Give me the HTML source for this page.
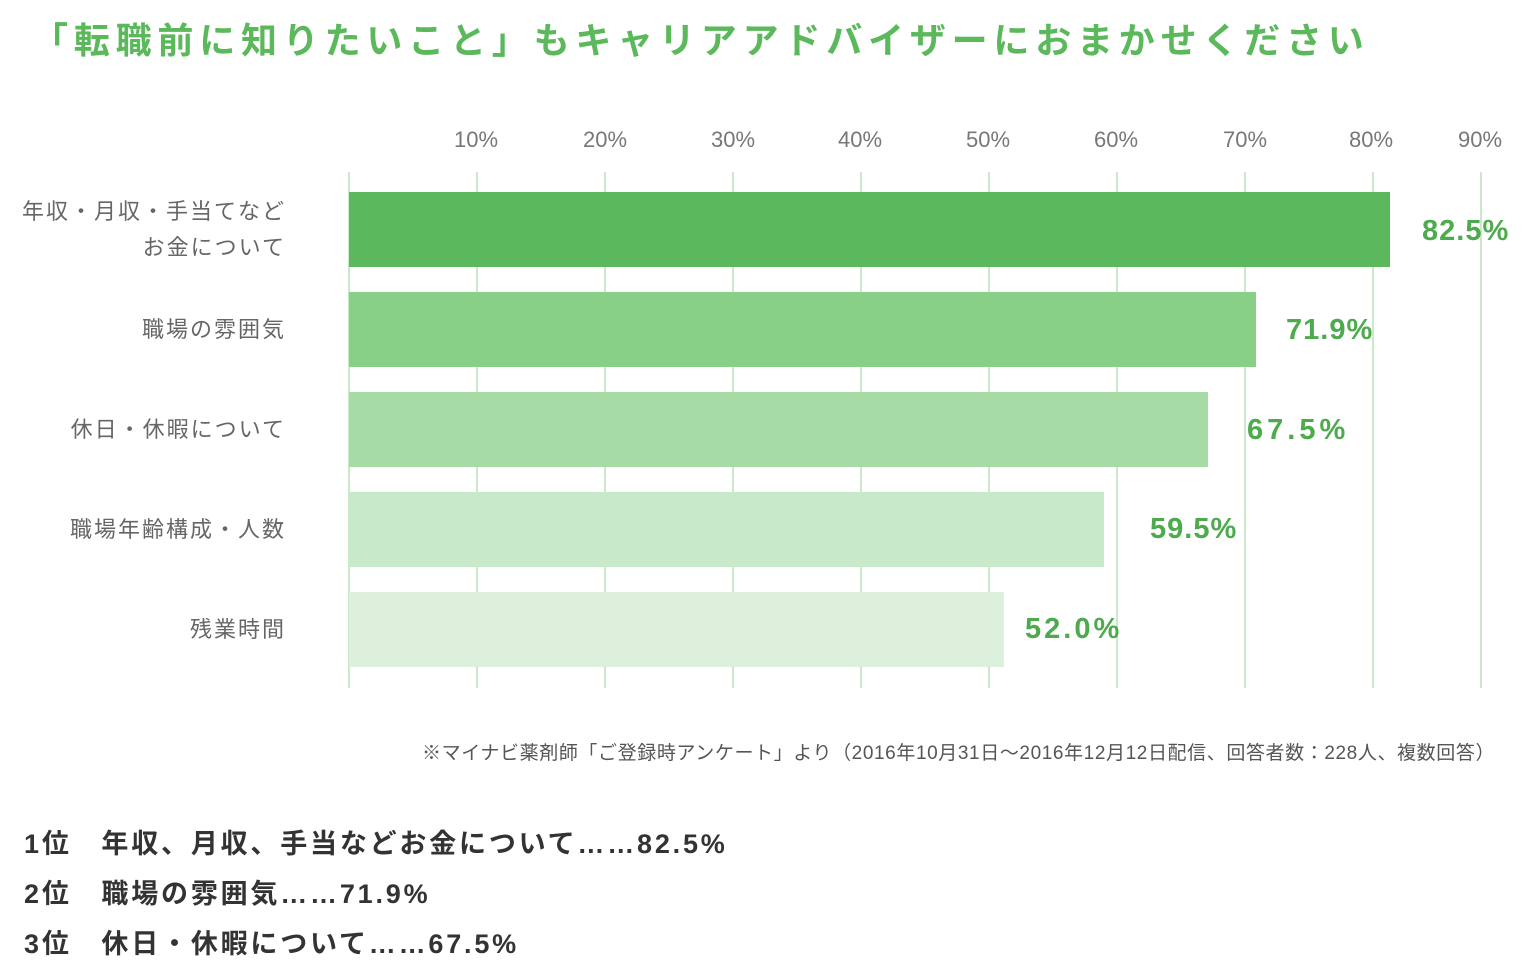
<!DOCTYPE html>
<html><head><meta charset="utf-8"><style>
body{margin:0;width:1538px;height:954px;background:#fff;position:relative;overflow:hidden;font-family:"Liberation Sans","Noto Sans CJK JP",sans-serif}
.a{position:absolute;white-space:nowrap}
.g{position:absolute;top:172px;height:516px;width:2px;background:#c9e9c9}
.b{position:absolute;left:349px;height:75px}
.t{color:#777;font-size:22px;top:127px;width:80px;text-align:center}
.l{color:#666;font-size:22px;letter-spacing:2px;right:1252px;text-align:right;line-height:36px}
.v{color:#4daa4d;font-size:29px;font-weight:bold;letter-spacing:1px}
.r{left:24px;font-size:27px;color:#333;font-weight:bold;letter-spacing:2.8px}
</style></head><body>
<div class="a" style="left:32px;top:12px;font-size:36px;color:#5bb85b;font-weight:bold;letter-spacing:5.8px">「転職前に知りたいこと」もキャリアアドバイザーにおまかせください</div>
<div class="g" style="left:348px"></div>
<div class="g" style="left:476px"></div><div class="g" style="left:604px"></div><div class="g" style="left:732px"></div><div class="g" style="left:860px"></div><div class="g" style="left:988px"></div><div class="g" style="left:1116px"></div><div class="g" style="left:1244px"></div><div class="g" style="left:1372px"></div><div class="g" style="left:1480px"></div>
<div class="a t" style="left:436px">10%</div><div class="a t" style="left:565px">20%</div><div class="a t" style="left:693px">30%</div><div class="a t" style="left:820px">40%</div><div class="a t" style="left:948px">50%</div><div class="a t" style="left:1076px">60%</div><div class="a t" style="left:1205px">70%</div><div class="a t" style="left:1331px">80%</div><div class="a t" style="left:1440px">90%</div>
<div class="b" style="top:192px;width:1041px;background:#5cb85c"></div>
<div class="b" style="top:292px;width:907px;background:#88cf88"></div>
<div class="b" style="top:392px;width:859px;background:#a6dba6"></div>
<div class="b" style="top:492px;width:755px;background:#c8eacb"></div>
<div class="b" style="top:592px;width:655px;background:#dcf0dc"></div>
<div class="a l" style="top:194px">年収・月収・手当てなど<br>お金について</div>
<div class="a l" style="top:312px">職場の雰囲気</div>
<div class="a l" style="top:412px">休日・休暇について</div>
<div class="a l" style="top:512px">職場年齢構成・人数</div>
<div class="a l" style="top:612px">残業時間</div>
<div class="a v" style="left:1422px;top:215px">82.5%</div>
<div class="a v" style="left:1286px;top:314px">71.9%</div>
<div class="a v" style="left:1247px;top:414px;letter-spacing:4px">67.5%</div>
<div class="a v" style="left:1150px;top:513px">59.5%</div>
<div class="a v" style="left:1025px;top:613px;letter-spacing:3px">52.0%</div>
<div class="a" style="left:422px;top:738px;font-size:19px;letter-spacing:0.6px;color:#555">※マイナビ薬剤師「ご登録時アンケート」より（2016年10月31日～2016年12月12日配信、回答者数：228人、複数回答）</div>
<div class="a r" style="top:822px">1位　年収、月収、手当などお金について……82.5%</div>
<div class="a r" style="top:872px">2位　職場の雰囲気……71.9%</div>
<div class="a r" style="top:922px">3位　休日・休暇について……67.5%</div>
</body></html>
